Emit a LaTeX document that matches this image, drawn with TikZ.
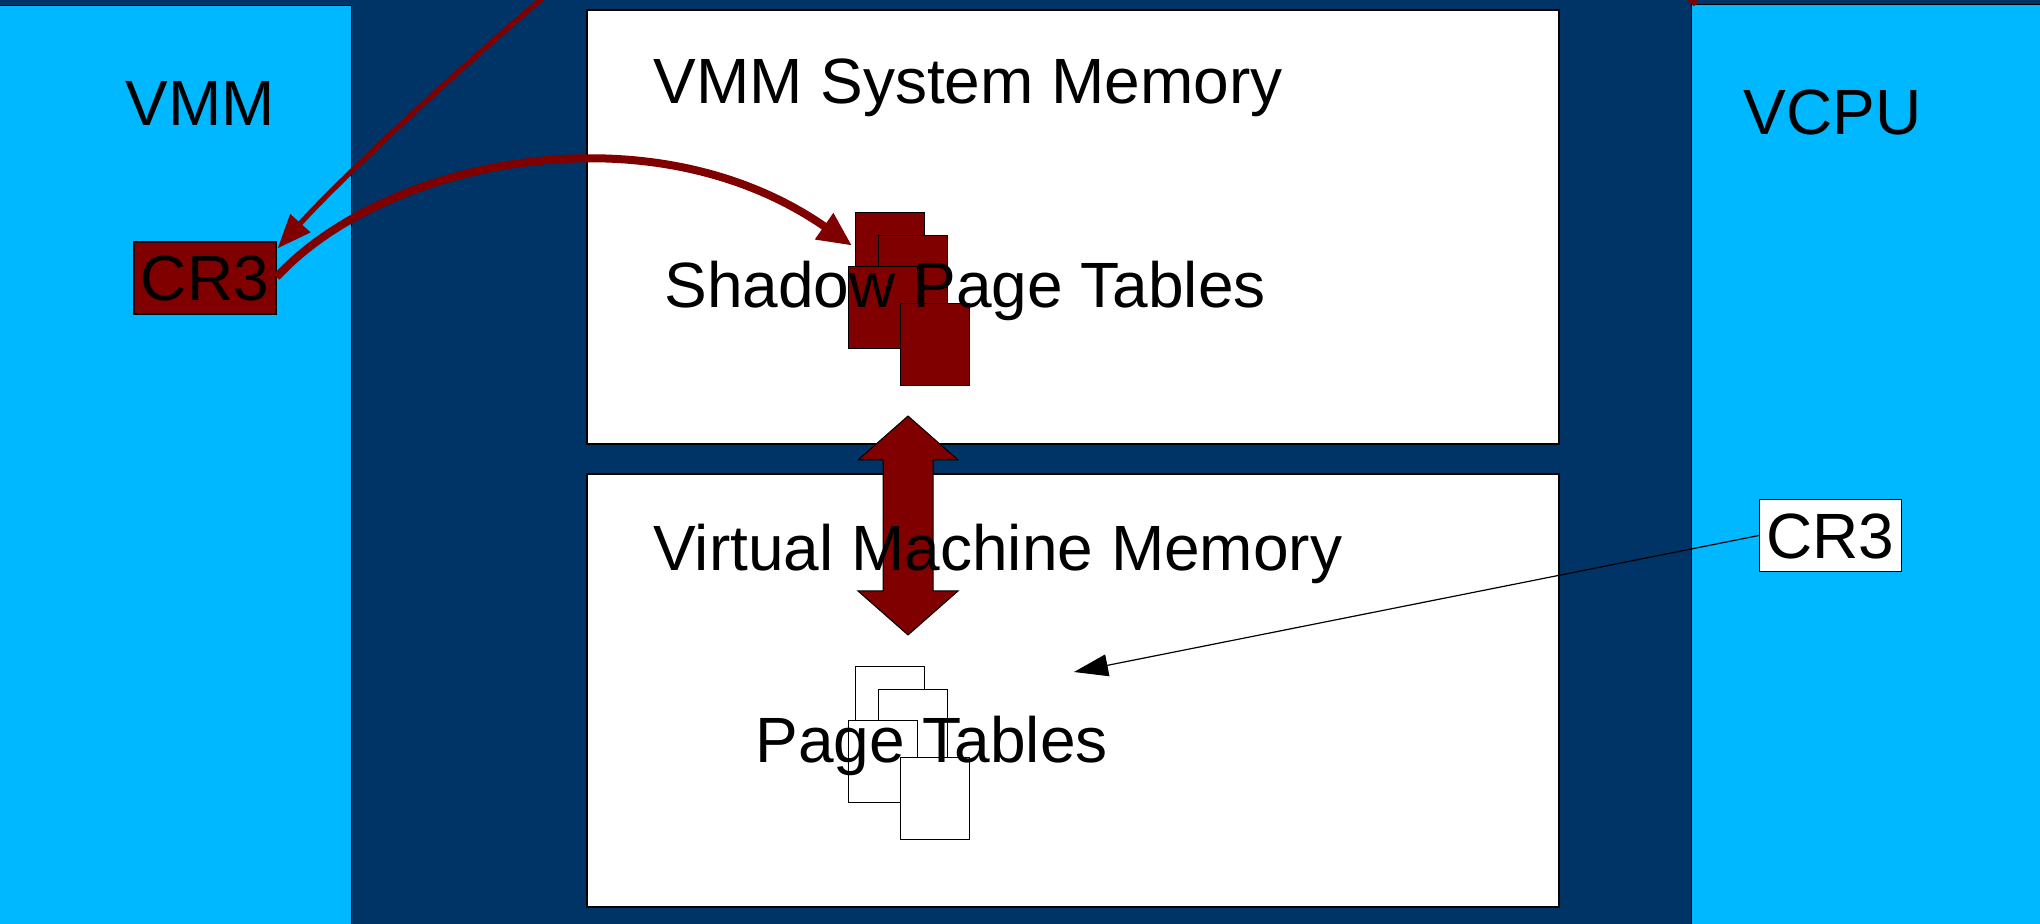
\documentclass[tikz,border=0pt]{standalone}
\usepackage{fontspec}
\setmainfont{Liberation Sans}
\usetikzlibrary{arrows.meta}
\definecolor{navy}{HTML}{003366}
\definecolor{sky}{HTML}{00B8FF}
\definecolor{maroon}{HTML}{800000}
\begin{document}
\begin{tikzpicture}[x=0.5pt,y=-0.5pt,
  panel/.style={fill=sky,draw=black,line width=0.5pt},
  membox/.style={fill=white,draw=black,line width=0.6pt},
  lbl/.style={anchor=base west,inner sep=0pt,font=\fontsize{32}{38}\selectfont},
  reg/.style={draw=black,line width=0.6pt,inner sep=0pt,minimum width=71pt,minimum height=36pt,
              text height=23pt,text depth=0pt,font=\fontsize{32}{38}\selectfont},
  sheet/.style={anchor=north west,draw=black,line width=0.6pt,inner sep=0pt,minimum width=34.5pt,minimum height=41pt},
  redline/.style={draw=maroon,line cap=butt},
]
\useasboundingbox (0,0) rectangle (2040,924);
\clip (0,0) rectangle (2040,924);
% background and side panels
\fill[navy] (0,0) rectangle (2040,924);
\draw[panel] (-5,6) rectangle (351,930);
\draw[panel] (1691,5) rectangle (2045,930);
% memory regions
\draw[membox] (587,10) rectangle (1559,444);
\draw[membox] (587,474) rectangle (1559,907);
% two-way sync arrow, behind the region titles
\filldraw[fill=maroon,draw=black,line width=0.5pt]
  (908,416) -- (958,460) -- (933,460) -- (933,591) -- (958,591) -- (908,635)
  -- (858,591) -- (883,591) -- (883,460) -- (858,460) -- cycle;
% panel titles
\node[lbl] (vmm) at (125,126) {VMM};
\node[lbl] (vcpu) at (1743,135) {VCPU};
\node[lbl] (sysmem) at (653,104) {VMM System Memory};
\node[lbl] (vmmem) at (653,571) {Virtual Machine Memory};
% shadow page table sheets
\foreach \n/\x/\y in {A/855/212,B/878/235,C/848/266,D/900/303}
  \node[sheet,fill=maroon] (s\n) at (\x,\y) {};
\node[lbl] (spt) at (664,308) {Shadow Page Tables};
% guest page table sheets
\foreach \n/\x/\y in {A/855/666,B/878/689,C/848/720,D/900/757}
  \node[sheet,fill=white] (p\n) at (\x,\y) {};
\node[lbl] (pt) at (755,762) {Page Tables};
% CR3 registers
\node[reg,fill=maroon] (crL) at (205,278) {CR3};
\node[reg,fill=white] (crR) at (1830.5,535.5) {CR3};
% connectors
\coordinate (topin) at (552,-10);
\coordinate (topout) at (1668,-22);
\coordinate (vcpucorner) at (1696,4);
\coordinate (ptTip) at (1074,672);
\draw[redline,line width=2.6pt,-{Triangle[length=17pt,width=13pt]}]
  (topin) .. controls (440,85) and (335,185) .. ([xshift=0.5pt,yshift=-3.5pt]crL.north east);
\draw[redline,line width=4pt,-{Triangle[length=17pt,width=15pt]}]
  ([yshift=0.5pt]crL.east) .. controls (385,160) and (650,105) .. ([xshift=-1.5pt,yshift=4pt]sA.west);
\draw[redline,line width=3pt] (topout) -- (vcpucorner);
\draw[black,line width=0.6pt,-{Triangle[length=17pt,width=11pt]}] (crR.west) -- (ptTip);
\end{tikzpicture}
\end{document}
